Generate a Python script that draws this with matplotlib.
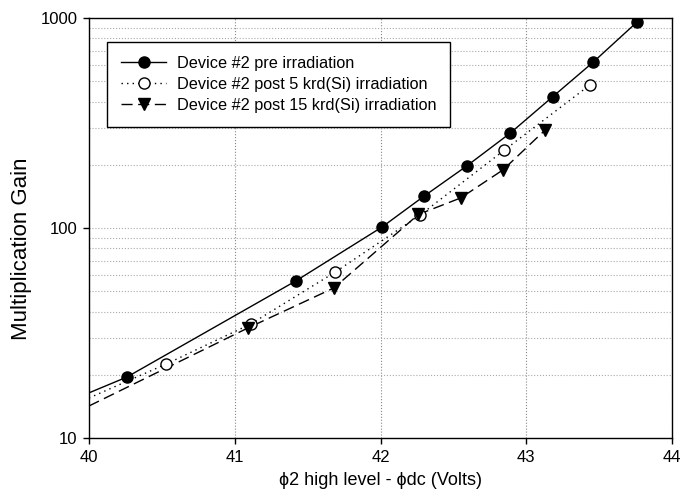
import matplotlib
matplotlib.use("Agg")
import matplotlib.pyplot as plt
from matplotlib.ticker import LogLocator, NullFormatter, FixedLocator

plt.rcParams['font.family'] = ['Liberation Sans', 'DejaVu Sans']

# measured points
pre_x = [40.26, 41.42, 42.01, 42.30, 42.59, 42.89, 43.18, 43.46, 43.76]
pre_y = [19.5, 56, 101, 142, 197, 283, 421, 617, 957]

post5_x = [40.53, 41.11, 41.69, 42.27, 42.85, 43.44]
post5_y = [22.5, 34.9, 61.7, 115, 235, 482]

post15_x = [41.09, 41.68, 42.26, 42.55, 42.84, 43.13]
post15_y = [33.4, 51.8, 116, 139, 189, 293]

# curve value at the left edge (x = 40)
x_start = 40.0
pre_start = 16.4
post5_start = 15.5
post15_start = 14.2

labels = ["Device #2 pre irradiation",
          "Device #2 post 5 krd(Si) irradiation",
          "Device #2 post 15 krd(Si) irradiation"]

fig = plt.figure(figsize=(6.95, 4.94), dpi=100)
ax = fig.add_axes([0.128, 0.1134, 0.839, 0.8502])
ax.set_yscale('log')

dotted = (0, (1, 3))
dashed = (0, (8, 4))

# curves
ax.plot([x_start] + pre_x, [pre_start] + pre_y, color='black', lw=1.0, ls='-')
ax.plot([x_start] + post5_x, [post5_start] + post5_y, color='black', lw=1.0, ls=dotted)
ax.plot([x_start] + post15_x, [post15_start] + post15_y, color='black', lw=1.0, ls=dashed)

# markers
ax.plot(pre_x, pre_y, 'o', color='black', ms=8, zorder=3)
ax.plot(post5_x, post5_y, 'o', mfc='white', mec='black', mew=1.0, ms=8, zorder=3)
ax.plot(post15_x, post15_y, 'v', color='black', ms=8, zorder=3)

# legend proxies
h1, = ax.plot([], [], color='black', lw=1.0, ls='-', marker='o', ms=8)
h2, = ax.plot([], [], color='black', lw=1.0, ls=dotted, marker='o', mfc='white', mec='black', ms=8)
h3, = ax.plot([], [], color='black', lw=1.0, ls=dashed, marker='v', ms=8)
leg = ax.legend([h1, h2, h3], labels, loc='upper left', bbox_to_anchor=(0.031, 0.943),
                fontsize=11.7, frameon=True, fancybox=False, edgecolor='black',
                framealpha=1, borderpad=0.85, handlelength=2.8, handletextpad=0.65,
                labelspacing=0.38, borderaxespad=0)
leg.get_frame().set_linewidth(1.0)

ax.set_xlim(40, 44)
ax.set_ylim(10, 1000)
ax.xaxis.set_major_locator(FixedLocator([40, 41, 42, 43, 44]))
ax.yaxis.set_major_locator(FixedLocator([10, 100, 1000]))
ax.set_yticklabels(['10', '100', '1000'])
ax.yaxis.set_minor_locator(LogLocator(base=10, subs=range(2, 10)))
ax.yaxis.set_minor_formatter(NullFormatter())

ax.grid(axis='x', which='major', color='#888888', ls=':', lw=0.8)
ax.grid(axis='y', which='both', color='#aaaaaa', ls=':', lw=0.8)
ax.tick_params(axis='y', which='minor', length=0)
ax.tick_params(which='major', direction='out', length=4.3, width=1, labelsize=12, pad=4)

for s in ax.spines.values():
    s.set_linewidth(1.0)

ax.set_xlabel("\u03d52 high level - \u03d5dc (Volts)", fontsize=13)
ax.xaxis.set_label_coords(0.5, -0.08)
ax.set_ylabel("Multiplication Gain", fontsize=16)
ax.yaxis.set_label_coords(-0.097, 0.45)

fig.savefig("out.png", dpi=100)
